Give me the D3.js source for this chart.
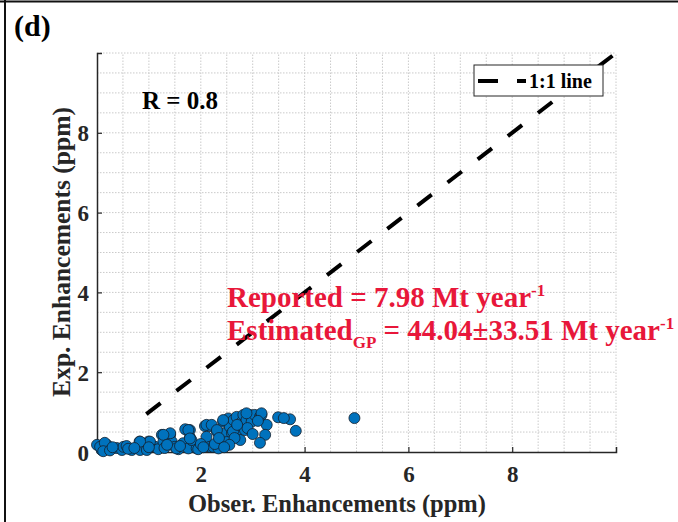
<!DOCTYPE html>
<html><head><meta charset="utf-8">
<script src="https://cdn.jsdelivr.net/npm/d3@7"></script>
<style>html,body{margin:0;padding:0;background:#fff;}svg{display:block;}</style>
</head><body>
<svg id="c" width="678" height="522"></svg>
<script>
const xTicks = [2, 4, 6, 8];
const yTicks = [0, 2, 4, 6, 8];
const obsX = [0.0,0.09,0.06,0.19,0.21,0.15,0.38,0.48,0.51,0.57,0.67,0.82,0.83,0.96,0.99,1.05,1.12,1.18,1.25,1.28,1.41,1.44,1.50,1.57,1.66,1.70,1.79,1.79,1.76,1.92,
 1.82,1.95,2.08,2.18,2.11,2.18,2.24,2.31,2.34,2.40,2.43,2.47,2.53,2.56,2.60,2.63,2.69,2.72,2.76,2.79,2.82,2.85,2.88,2.95,2.98,3.04,3.14,3.17,3.27,3.24,3.14,3.49,3.72,3.83,4.96,
 3.17,2.88,2.62,2.43,2.11,2.21,2.31,1.76,1.79,1.41,1.28,1.02,0.83,1.53,3.60,
 0.12,0.25,0.30,0.60,0.72,1.00,1.30,1.35,1.60,2.00,2.05,2.27,2.50,2.65,2.90,3.00,2.35,2.70,3.10,2.55,2.45];
const expY = [0.18,0.05,0.13,0.18,0.07,0.23,0.10,0.05,0.13,0.15,0.05,0.26,0.05,0.05,0.26,0.18,0.13,0.07,0.43,0.26,0.43,0.26,0.13,0.07,0.22,0.57,0.55,0.37,0.09,0.09,
 0.30,0.07,0.65,0.65,0.38,0.13,0.13,0.51,0.09,0.26,0.76,0.47,0.84,0.63,0.47,0.80,0.88,0.55,0.30,0.76,0.93,0.55,0.80,0.93,0.76,0.93,0.88,0.93,0.68,0.43,0.23,0.87,0.82,0.53,0.85,
 0.97,0.97,0.51,0.80,0.68,0.68,0.55,0.55,0.34,0.47,0.43,0.26,0.26,0.09,0.85,
 0.02,0.04,0.12,0.08,0.10,0.12,0.10,0.18,0.15,0.20,0.12,0.20,0.25,0.35,0.60,0.45,0.35,0.68,0.78,0.18,0.12];
const oneToOne = [0.95, 10];
const labels = {panel:"(d)", r:"R = 0.8", legend:"1:1 line", xLab:"Obser. Enhancements (ppm)", yLab:"Exp. Enhancements (ppm)"};

const svg = d3.select("#c");
const F = "'Liberation Serif','Times New Roman',serif";
const m = {l:97, r:616, t:53, b:452};
const x = d3.scaleLinear().domain([0,10]).range([m.l, m.r]);
const y = d3.scaleLinear().domain([0,10]).range([m.b, m.t]);

// frame lines of figure
svg.append("line").attr("x1",0).attr("x2",678).attr("y1",1.5).attr("y2",1.5).attr("stroke","#111").attr("stroke-width",2);
svg.append("line").attr("x1",5).attr("x2",5).attr("y1",0).attr("y2",522).attr("stroke","#111").attr("stroke-width",2);

// grid
const gv = d3.range(0.5, 10.01, 0.5);
svg.append("g").selectAll("line").data(gv).join("line")
  .attr("x1",d=>x(d)).attr("x2",d=>x(d)).attr("y1",y(0)).attr("y2",y(10))
  .attr("stroke","#cacaca").attr("stroke-width",1).attr("stroke-dasharray","1.5,1.5");
svg.append("g").selectAll("line").data(gv).join("line")
  .attr("y1",d=>y(d)).attr("y2",d=>y(d)).attr("x1",x(0)).attr("x2",x(10))
  .attr("stroke","#cacaca").attr("stroke-width",1).attr("stroke-dasharray","1.5,1.5");

// axes
const xa = svg.append("g").attr("transform",`translate(0,${m.b})`)
  .call(d3.axisBottom(x).tickValues(xTicks).tickSize(-5).tickPadding(14).tickFormat(d3.format("d")));
const ya = svg.append("g").attr("transform",`translate(${m.l},0)`)
  .call(d3.axisLeft(y).tickValues(yTicks).tickSize(-5).tickPadding(8).tickFormat(d3.format("d")));
[xa,ya].forEach(a=>{
  a.select(".domain").attr("stroke","#262626").attr("stroke-width",1.5);
  a.selectAll(".tick line").attr("stroke","#262626").attr("stroke-width",1.2);
  a.selectAll("text").attr("font-family",F).attr("font-weight","bold").attr("font-size",23).attr("fill","#262626");
});
ya.selectAll(".tick text").attr("dy","0.35em");
xa.selectAll(".tick text").attr("dy","0.71em");

// 1:1 line
svg.append("line").attr("x1",x(oneToOne[0])).attr("y1",y(oneToOne[0])).attr("x2",x(oneToOne[1])).attr("y2",y(oneToOne[1]))
  .attr("stroke","#000").attr("stroke-width",4).attr("stroke-dasharray","18,20");

// points
svg.append("g").selectAll("circle").data(obsX.map((v,i)=>[v,expY[i]])).join("circle")
  .attr("cx",d=>x(d[0])).attr("cy",d=>y(d[1])).attr("r",5.5)
  .attr("fill","#0072BD").attr("stroke","#14202c").attr("stroke-width",0.8);

// legend
const lg = svg.append("g");
lg.append("rect").attr("x",474).attr("y",65).attr("width",129).attr("height",31).attr("fill","#fff").attr("stroke","#262626").attr("stroke-width",1);
lg.append("line").attr("x1",478).attr("x2",526).attr("y1",81).attr("y2",81).attr("stroke","#000").attr("stroke-width",4).attr("stroke-dasharray","20,19");
lg.append("text").attr("x",529).attr("y",88).attr("font-family",F).attr("font-weight","bold").attr("font-size",20).attr("fill","#000").text(labels.legend);

// texts
svg.append("text").attr("x",14).attr("y",36).attr("font-family",F).attr("font-weight","bold").attr("font-size",30).attr("fill","#000").text(labels.panel);
svg.append("text").attr("x",142).attr("y",109).attr("font-family",F).attr("font-weight","bold").attr("font-size",25).attr("fill","#000").text(labels.r);

const red = "#e8173a";
const t1 = svg.append("text").attr("x",227).attr("y",307).attr("font-family",F).attr("font-weight","bold").attr("font-size",29).attr("fill",red);
t1.append("tspan").text("Reported = 7.98 Mt year");
t1.append("tspan").attr("dy",-11).attr("font-size",17).text("-1");
const t2 = svg.append("text").attr("x",227).attr("y",340).attr("font-family",F).attr("font-weight","bold").attr("font-size",29).attr("fill",red);
t2.append("tspan").text("Estimated");
t2.append("tspan").attr("dy",8).attr("font-size",17).text("GP");
t2.append("tspan").attr("dy",-8).text(" = 44.04±33.51 Mt year");
t2.append("tspan").attr("dy",-11).attr("font-size",17).text("-1");

svg.append("text").attr("x",337).attr("y",512).attr("text-anchor","middle").attr("font-family",F).attr("font-weight","bold").attr("font-size",24.5).attr("fill","#262626").text(labels.xLab);
svg.append("text").attr("transform",`translate(70,252) rotate(-90)`).attr("text-anchor","middle").attr("font-family",F).attr("font-weight","bold").attr("font-size",25.5).attr("fill","#262626").text(labels.yLab);
</script>
</body></html>
